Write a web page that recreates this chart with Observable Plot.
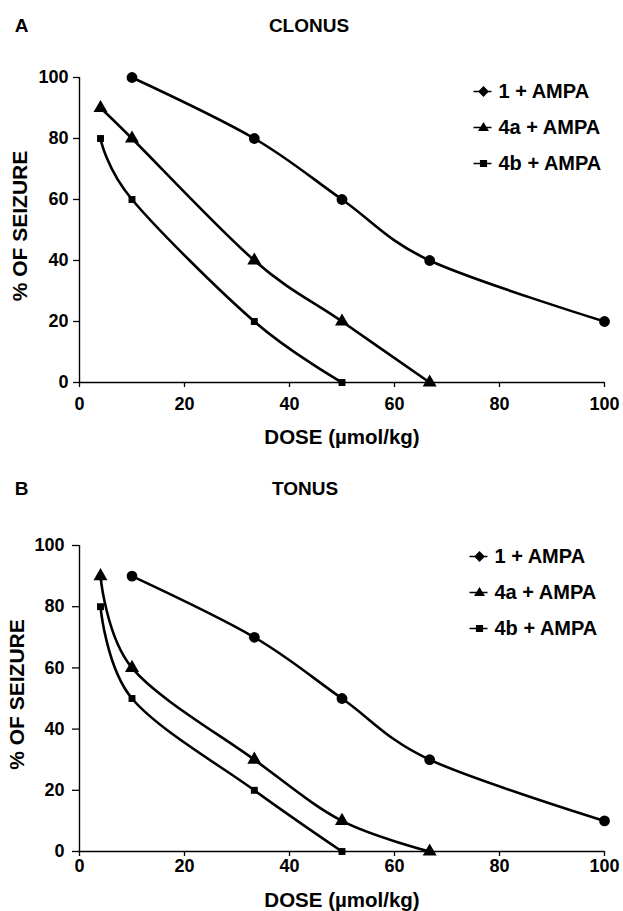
<!DOCTYPE html>
<html><head><meta charset="utf-8">
<script src="https://cdn.jsdelivr.net/npm/d3@7"></script>
<script src="https://cdn.jsdelivr.net/npm/@observablehq/plot@0.6"></script>
<style>body{margin:0;background:#fff} #chart svg{display:block}</style>
</head><body><div id="chart"></div>
<script>
// ---- data ----
const seriesNames = ["1 + AMPA", "4a + AMPA", "4b + AMPA"];
const dose1  = [10, 33.3, 50, 66.7, 100];
const dose4a = [4, 10, 33.3, 50, 66.7];
const dose4b = [4, 10, 33.3, 50];
const clonus1  = [100, 80, 60, 40, 20];
const clonus4a = [90, 80, 40, 20, 0];
const clonus4b = [80, 60, 20, 0];
const tonus1  = [90, 70, 50, 30, 10];
const tonus4a = [90, 60, 30, 10, 0];
const tonus4b = [80, 50, 20, 0];
const xTicks = [0, 20, 40, 60, 80, 100];
const yTicks = [0, 20, 40, 60, 80, 100];
const panelLetters = ["A", "B"];
const panelTitles = ["CLONUS", "TONUS"];
const xLabel = "DOSE (\u00b5mol/kg)";
const yLabel = "% OF SEIZURE";

const rows = (doses, vals, s) => doses.map((d, i) => ({dose: d, pct: vals[i], series: s}));

const font = "'Liberation Sans', Arial, Helvetica, sans-serif";

// legend symbols: marker with a short line through it
function legendSym(kind) {
  return {
    draw(ctx, size) {
      const r = Math.sqrt(size / Math.PI);
      ctx.moveTo(-10, 0); ctx.lineTo(8, 0);
      if (kind === "circle") {
        ctx.moveTo(0, -r); ctx.lineTo(r, 0); ctx.lineTo(0, r); ctx.lineTo(-r, 0); ctx.closePath();
      } else if (kind === "triangle") {
        const h = r * 1.6;
        ctx.moveTo(0, -h * 0.6); ctx.lineTo(h * 0.6, h * 0.4); ctx.lineTo(-h * 0.6, h * 0.4); ctx.closePath();
      } else {
        ctx.rect(-r * 0.8, -r * 0.8, r * 1.6, r * 1.6);
      }
    }
  };
}
const kinds = ["circle", "triangle", "square"];
const markerR = [5.4, 5.2, 3.9];

function panel(idx, vals, cfg) {
  const data = [rows(dose1, vals[0], seriesNames[0]), rows(dose4a, vals[1], seriesNames[1]), rows(dose4b, vals[2], seriesNames[2])];
  const marks = [];
  // axis lines
  marks.push(Plot.ruleX([xTicks[0]], {y1: d3.min(yTicks), y2: d3.max(yTicks), stroke: "#000", strokeWidth: 1.4}));
  marks.push(Plot.ruleY([yTicks[0]], {x1: d3.min(xTicks), x2: d3.max(xTicks), stroke: "#000", strokeWidth: 1.4}));
  marks.push(Plot.axisY({ticks: yTicks, tickSize: cfg.yTickSize, tickPadding: cfg.yTickPad, label: null, fontSize: 18, fontWeight: "bold", stroke: "#000", strokeWidth: 1.3}));
  marks.push(Plot.axisX({ticks: xTicks, tickSize: 5, tickPadding: cfg.xTickPad, label: null, fontSize: 18, fontWeight: "bold", stroke: "#000", strokeWidth: 1.3}));
  // curves and markers
  data.forEach((d, i) => {
    marks.push(Plot.line(d, {x: "dose", y: "pct", curve: "cardinal", stroke: "#000", strokeWidth: 2.6}));
    marks.push(Plot.dot(d, {x: "dose", y: "pct", symbol: kinds[i], r: markerR[i], fill: "#000", stroke: "none"}));
  });
  // titles
  marks.push(Plot.text([panelLetters[idx]], {text: d => d, frameAnchor: "top-left", dx: cfg.letterDx, dy: cfg.titleDy, fontSize: 19, fontWeight: "bold", textAnchor: "middle", lineAnchor: "middle"}));
  marks.push(Plot.text([panelTitles[idx]], {text: d => d, frameAnchor: "top", dx: cfg.titleDx, dy: cfg.titleDy, fontSize: 19, fontWeight: "bold", textAnchor: "middle", lineAnchor: "middle"}));
  // axis labels
  marks.push(Plot.text([yLabel], {text: d => d, frameAnchor: "left", rotate: -90, dx: cfg.yLabDx, dy: cfg.yLabDy, fontSize: 21, fontWeight: "bold", textAnchor: "middle", lineAnchor: "middle"}));
  marks.push(Plot.text([xLabel], {text: d => d, frameAnchor: "bottom", dx: 0, dy: cfg.xLabDy, fontSize: 20.5, fontWeight: "bold", textAnchor: "middle", lineAnchor: "middle"}));
  // legend
  seriesNames.forEach((s, i) => {
    const dy = cfg.legDy0 + i * cfg.legGap;
    marks.push(Plot.dot([s], {frameAnchor: "top-right", dx: cfg.legSymDx, dy, symbol: legendSym(kinds[i]), r: i === 2 ? 3.6 : 4.4, fill: "#000", stroke: "#000", strokeWidth: 1.4}));
    marks.push(Plot.text([s], {text: d => d, frameAnchor: "top-right", dx: cfg.legTxtDx, dy, textAnchor: "start", lineAnchor: "middle", fontSize: 20, fontWeight: "bold"}));
  });
  return Plot.plot({
    width: 623, height: cfg.height,
    marginLeft: 79, marginRight: 19, marginTop: cfg.mt, marginBottom: cfg.mb,
    x: {domain: [0, 100]}, y: {domain: [0, 100]},
    style: {fontFamily: font, color: "#000", background: "#fff", overflow: "visible"},
    marks
  });
}

const chart = document.getElementById("chart");
chart.append(panel(0, [clonus1, clonus4a, clonus4b], {
  height: 455, mt: 77, mb: 73, yTickSize: 6, yTickPad: 5, xTickPad: 10,
  letterDx: -58, titleDx: -33, titleDy: -52, yLabDx: -59, yLabDy: -4, xLabDy: 55,
  legDy0: 14, legGap: 36, legSymDx: -121, legTxtDx: -106
}));
chart.append(panel(1, [tonus1, tonus4a, tonus4b], {
  height: 456, mt: 90, mb: 60, yTickSize: 7, yTickPad: 8, xTickPad: 3,
  letterDx: -58, titleDx: -37, titleDy: -57, yLabDx: -62, yLabDy: -4, xLabDy: 49,
  legDy0: 11, legGap: 36, legSymDx: -125, legTxtDx: -110
}));
</script></body></html>
